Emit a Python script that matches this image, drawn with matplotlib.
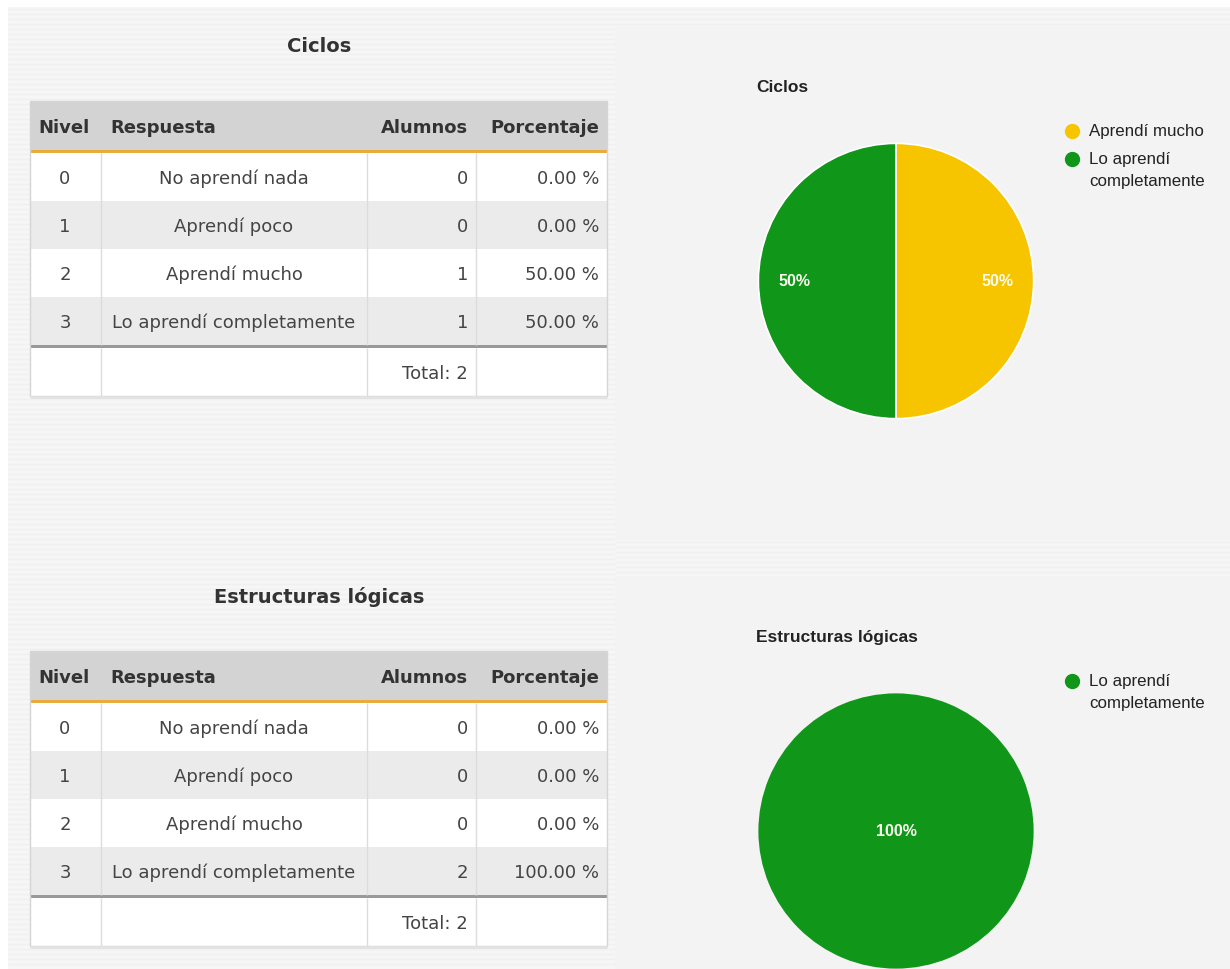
import textwrap
import numpy as np
import matplotlib.pyplot as plt
from matplotlib.patches import Rectangle

# figure size in pixels
W, H = 1230, 970

# data
temas = ['Ciclos', 'Estructuras lógicas']
niveles = [0, 1, 2, 3]
respuestas = ['No aprendí nada', 'Aprendí poco', 'Aprendí mucho', 'Lo aprendí completamente']
alumnos_ciclos = [0, 0, 1, 1]
alumnos_estructuras = [0, 0, 0, 2]
encabezados = ['Nivel', 'Respuesta', 'Alumnos', 'Porcentaje']
colores_respuesta = ['#dc3912', '#ff9900', '#f6c500', '#109618']

TABLE_FONT = 'DejaVu Sans'
CHART_FONT = 'Liberation Sans'

fig = plt.figure(figsize=(W / 100, H / 100), dpi=100, facecolor='#f6f6f6')
bg = fig.add_axes([0, 0, 1, 1])
bg.set_xlim(0, W)
bg.set_ylim(H, 0)
bg.axis('off')


def px_axes(x0, y0, w, h):
    # axes from top-left pixel position
    return fig.add_axes([x0 / W, (H - y0 - h) / H, w / W, h / H])


# page background: white top strip and faint stripes
bg.add_patch(Rectangle((0, 0), W, 8, fc='white', ec='none', zorder=0))
bg.add_patch(Rectangle((0, 8), 8, H, fc='white', ec='none', zorder=0))
for y in np.arange(10, H, 5):
    bg.hlines(y, 8, 615, color='#f0f0f0', lw=1.0, zorder=0)
for y in np.arange(10, 27, 5):
    bg.hlines(y, 615, W, color='#f0f0f0', lw=1.0, zorder=0)
for y in np.arange(543, 577, 5):
    bg.hlines(y, 615, W, color='#f0f0f0', lw=1.0, zorder=0)

col_edges = [30, 101, 367, 476, 607]
tab_w = col_edges[-1] - col_edges[0]


def draw_table(y0, tema, alumnos):
    total = sum(alumnos)
    bg.text(319, y0 + 47, tema, ha='center', va='center', fontsize=14,
            fontweight='bold', color='#333333', family=TABLE_FONT)

    # header
    bg.add_patch(Rectangle((30, y0 + 102), tab_w, 50, fc='#d3d3d3', ec='none'))
    hy = y0 + 128
    bg.text(38, hy, encabezados[0], ha='left', va='center', fontsize=13,
            fontweight='bold', color='#333333', family=TABLE_FONT)
    bg.text(110, hy, encabezados[1], ha='left', va='center', fontsize=13,
            fontweight='bold', color='#333333', family=TABLE_FONT)
    bg.text(468, hy, encabezados[2], ha='right', va='center', fontsize=13,
            fontweight='bold', color='#333333', family=TABLE_FONT)
    bg.text(599, hy, encabezados[3], ha='right', va='center', fontsize=13,
            fontweight='bold', color='#333333', family=TABLE_FONT)
    bg.add_patch(Rectangle((30, y0 + 151), tab_w, 3, fc='#e9ab3b', ec='none'))

    # body rows
    for i, (niv, resp, a) in enumerate(zip(niveles, respuestas, alumnos)):
        ry = y0 + 154 + 48 * i
        fc = '#ffffff' if i % 2 == 0 else '#ebebeb'
        bg.add_patch(Rectangle((30, ry), tab_w, 48, fc=fc, ec='none'))
        cy = ry + 25
        pct = 100.0 * a / total if total else 0.0
        bg.text(65, cy, str(niv), ha='center', va='center', fontsize=13,
                color='#444444', family=TABLE_FONT)
        bg.text(234, cy, resp, ha='center', va='center', fontsize=13,
                color='#444444', family=TABLE_FONT)
        bg.text(468, cy, str(a), ha='right', va='center', fontsize=13,
                color='#444444', family=TABLE_FONT)
        bg.text(599, cy, f'{pct:.2f} %', ha='right', va='center', fontsize=13,
                color='#444444', family=TABLE_FONT)

    # total row
    bg.add_patch(Rectangle((30, y0 + 346), tab_w, 3, fc='#999999', ec='none'))
    bg.add_patch(Rectangle((30, y0 + 349), tab_w, 48, fc='#ffffff', ec='none'))
    bg.text(468, y0 + 374, f'Total: {total}', ha='right', va='center',
            fontsize=13, color='#444444', family=TABLE_FONT)

    for x in col_edges[1:-1]:
        bg.vlines(x, y0 + 154, y0 + 346, color='#dcdcdc', lw=1)
        bg.vlines(x, y0 + 349, y0 + 397, color='#dcdcdc', lw=1)

    bg.add_patch(Rectangle((30, y0 + 102), tab_w, 295, fill=False,
                           ec='#d5d5d5', lw=1))
    bg.hlines(y0 + 398, 30, 607, color='#e2e2e2', lw=2)


def draw_pie(y0, tema, alumnos):
    bg.add_patch(Rectangle((615, y0 + 27), W - 615, 514, fc='#f3f3f3',
                           ec='none', zorder=0.5))
    bg.text(756, y0 + 88, tema, ha='left', va='center', fontsize=12.5,
            fontweight='bold', color='#222222', family=CHART_FONT)

    idx = [i for i, a in enumerate(alumnos) if a > 0]
    vals = [alumnos[i] for i in idx]
    labels = [respuestas[i] for i in idx]
    cols = [colores_respuesta[i] for i in idx]

    ax = px_axes(757, y0 + 143, 278, 278)
    ax.pie(vals, colors=cols, startangle=90, counterclock=False,
           autopct='%1.0f%%', pctdistance=0.74 if len(vals) > 1 else 0,
           textprops=dict(color='#fbfbf0', fontsize=11.5, fontweight='bold',
                          family=CHART_FONT),
           wedgeprops=dict(edgecolor='white', linewidth=1.2 if len(vals) > 1 else 0))
    ax.set_xlim(-1.01, 1.01)
    ax.set_ylim(-1.01, 1.01)

    # legend
    ly = y0 + 132
    for lab, c in zip(labels, cols):
        txt = textwrap.fill(lab, 14)
        bg.scatter([1072], [ly], s=100, color=c, zorder=3)
        bg.text(1089, ly - 8, txt, ha='left', va='top', fontsize=12.2,
                color='#222222', family=CHART_FONT, linespacing=1.55)
        nlines = txt.count('\n') + 1
        ly += 5 + 23 * nlines


for k, (tema, alumnos) in enumerate(zip(temas, [alumnos_ciclos, alumnos_estructuras])):
    y0 = 550 * k
    draw_pie(y0, tema, alumnos)
    draw_table(y0, tema, alumnos)

fig.savefig('out.png', dpi=100, facecolor=fig.get_facecolor())
